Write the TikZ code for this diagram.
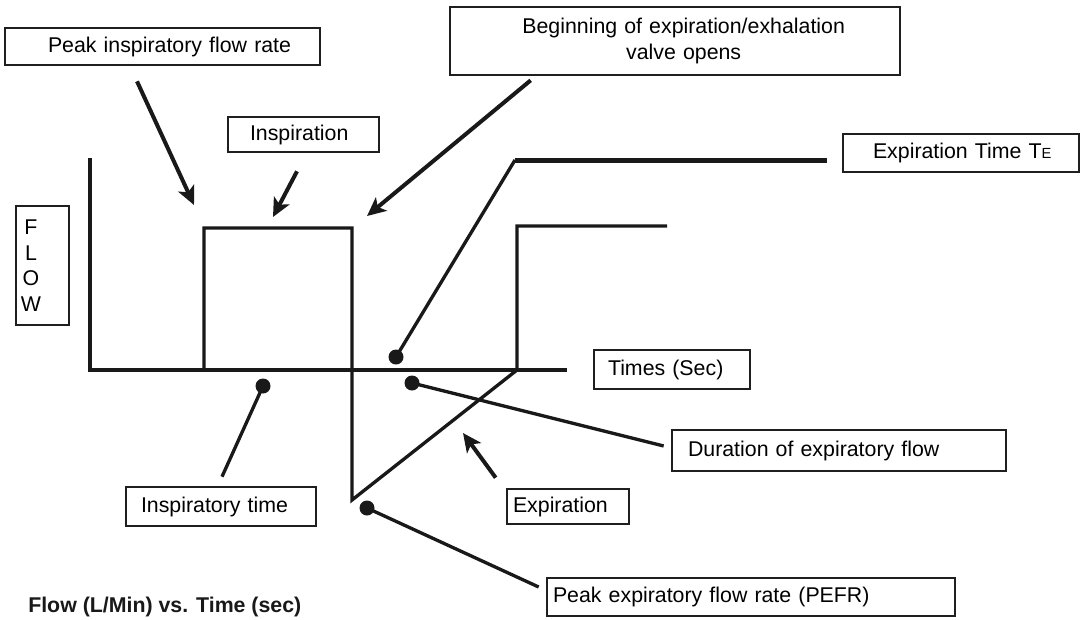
\documentclass[tikz,border=0pt]{standalone}
\usepackage{fontspec}
\setmainfont{Liberation Sans}
\usetikzlibrary{arrows.meta,calc}
\begin{document}
\begin{tikzpicture}[x=0.75pt,y=-0.75pt,
  lbl/.style={draw=black!88, line width=2pt, inner sep=0pt, align=left,
    font=\fontsize{16}{20}\selectfont},
  axisline/.style={line width=3.5pt, black!90},
  trace/.style={line width=2.5pt, black!90},
  leader/.style={line width=2.5pt, black!90},
  pointer/.style={line width=3pt, black!90, -{Stealth[length=14pt,width=13pt,inset=3.5pt]}},
  dot/.style={circle, fill=black!90, inner sep=0pt, minimum size=11.25pt},
]
\useasboundingbox (0,0) rectangle (1082,619);

% labelled boxes
\node[lbl, minimum height=27.75pt, text width=236.25pt] (pif) at (162.5,46.5)
  {\hspace*{32.25pt}Peak inspiratory flow rate};
\node[lbl, minimum height=26.25pt, text width=113.25pt] (insp) at (303.5,134.5)
  {\hspace*{16.5pt}Inspiration};
\node[lbl, align=center, minimum height=51pt, text width=337.5pt] (beg) at (675,41)
  {\hspace*{13pt}Beginning of expiration/exhalation\\\hspace*{13pt}valve opens};
\node[lbl, minimum height=28.5pt, text width=177pt] (te) at (961,153)
  {\hspace*{22.5pt}Expiration Time T{\fontsize{11}{11}\selectfont E}};
\node[lbl, minimum height=89.25pt, text width=39.75pt] (flow) at (42.5,265.5)
  {\hspace*{3pt}\parbox{16.5pt}{\centering\fontsize{16}{19.25}\selectfont F\\L\\O\\W}};
\node[lbl, minimum height=29.25pt, text width=117pt] (times) at (672,369.5)
  {\hspace*{10.5pt}Times (Sec)};
\node[lbl, minimum height=30.75pt, text width=250.5pt] (dur) at (839,450.5)
  {\hspace*{12pt}Duration of expiratory flow};
\node[lbl, minimum height=26.25pt, text width=91.5pt] (expn) at (568,506.5)
  {\hspace*{4.5pt}Expiration};
\node[lbl, minimum height=28.5pt, text width=306pt] (pefr) at (751,597)
  {\hspace*{4.5pt}Peak expiratory flow rate (PEFR)};
\node[lbl, minimum height=29.25pt, text width=142.5pt] (itime) at (221,506.5)
  {\hspace*{11.25pt}Inspiratory time};
\node[anchor=base west, inner sep=0pt, font=\bfseries\fontsize{16}{20}\selectfont, text=black!90]
  (cap) at (28,612) {Flow (L/Min) vs. Time (sec)};

% axes
\draw[axisline] (90,158) -- (90,372);
\draw[trace] (88,370) -- (567,370);

% flow waveform
\draw[trace] (204,370) -- (204,228) -- (352,228) -- (352,500) -- (517,370)
  -- (517,226) -- (667,226);

% marker dots
\node[dot] (dte) at (396,357) {};
\node[dot] (ddur) at (412,383) {};
\node[dot] (dit) at (263,386) {};
\node[dot] (dpef) at (367,508) {};

% expiration time bracket
\coordinate (tecorner) at (515,160);
\draw[leader] (dte.center) -- (tecorner);
\draw[line width=3.75pt, black!90] (tecorner) -- ($(te.west)+(-15,7)$);

% leader lines
\draw[leader] (ddur.center) -- ($(dur.west)+(-7,-4.5)$);
\draw[leader] (dit.center) -- ($(itime.north)+(1,-9)$);
\draw[leader] (dpef.center) -- ($(pefr.west)+(-7,-10)$);

% pointer arrows
\coordinate (t1) at (194,205);
\draw[pointer] ($(pif.south)+(-25.5,15)$) -- (t1);
\coordinate (t2) at (273,217);
\draw[pointer] ($(insp.south)+(-6.5,18)$) -- (t2);
\coordinate (t3) at (367,216);
\draw[pointer] ($(beg.south west)+(82,4)$) -- (t3);
\coordinate (t4) at (463,433);
\draw[pointer] ($(expn.north west)+(-10,-10)$) -- (t4);
\end{tikzpicture}
\end{document}
